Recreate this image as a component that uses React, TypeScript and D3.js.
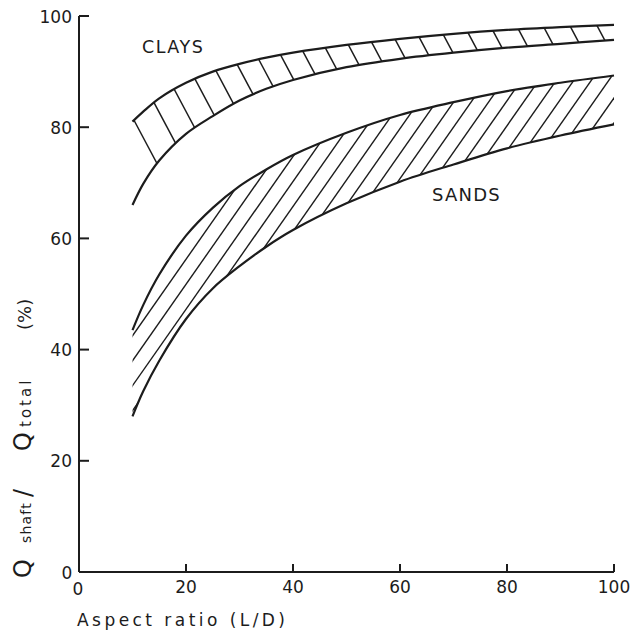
import React from 'react';
import * as d3 from 'd3';

const aspectRatio = [10, 12, 15, 20, 25, 30, 35, 40, 50, 60, 70, 80, 90, 100];
const clayUpper = [81, 82.8, 85.2, 88, 90, 91.4, 92.5, 93.4, 94.8, 95.9, 96.8, 97.5, 98, 98.4];
const clayLower = [66, 69.8, 74, 78.8, 82, 84.8, 86.9, 88.5, 90.8, 92.3, 93.4, 94.3, 95, 95.7];
const sandUpper = [43.5, 48, 53.5, 60.5, 65.5, 69.4, 72.4, 75, 79, 82.2, 84.5, 86.5, 88, 89.3];
const sandLower = [28, 32.5, 38, 45.5, 51, 55, 58.5, 61.5, 66.3, 70.2, 73.3, 76.2, 78.5, 80.5];
const xTicks = [20, 40, 60, 80, 100];
const yTicks = [20, 40, 60, 80, 100];

const W = 631;
const H = 632;
const INK = '#1c1c1c';
const FONT = 'DejaVu Sans, sans-serif';

type Row = { a: number; up: number; lo: number };

export default function App() {
  const x = d3.scaleLinear().domain([0, 100]).range([79, 614]);
  const y = d3.scaleLinear().domain([0, 100]).range([572, 16]);

  const rows = (up: number[], lo: number[]): Row[] =>
    aspectRatio.map((a, i) => ({ a, up: up[i], lo: lo[i] }));
  const clay = rows(clayUpper, clayLower);
  const sand = rows(sandUpper, sandLower);

  const curve = d3.curveCatmullRom.alpha(0.5);
  const area = d3
    .area<Row>()
    .x((d) => x(d.a))
    .y0((d) => y(d.lo))
    .y1((d) => y(d.up))
    .curve(curve);
  const lineUp = d3.line<Row>().x((d) => x(d.a)).y((d) => y(d.up)).curve(curve);
  const lineLo = d3.line<Row>().x((d) => x(d.a)).y((d) => y(d.lo)).curve(curve);

  // clay hatch: "\" lines, spacing growing slowly along the band
  const clayUpPx = d3
    .scaleLinear()
    .domain(aspectRatio.map((a) => x(a)))
    .range(clayUpper.map((v) => y(v)))
    .clamp(true);
  const ca = (62 * Math.PI) / 180;
  const cdx = Math.cos(ca);
  const cdy = Math.sin(ca);
  const clayHatch: { x1: number; y1: number; x2: number; y2: number }[] = [];
  for (let px = x(10) + 1.5; px < x(100) + 4; px += 20 + (px - x(10)) * 0.015) {
    const py = clayUpPx(px);
    clayHatch.push({ x1: px - 30 * cdx, y1: py - 30 * cdy, x2: px + 140 * cdx, y2: py + 140 * cdy });
  }

  // sand hatch: "/" lines
  const sa = (55 * Math.PI) / 180;
  const sdx = Math.cos(sa);
  const sdy = Math.sin(sa);
  const sandHatch: { x1: number; y1: number; x2: number; y2: number }[] = [];
  for (let px = 0; px < 900; px += 17.5) {
    const py = 300;
    sandHatch.push({ x1: px - 500 * sdx, y1: py + 500 * sdy, x2: px + 500 * sdx, y2: py - 500 * sdy });
  }

  return (
    <svg
      width={W}
      height={H}
      viewBox={`0 0 ${W} ${H}`}
      style={{ position: 'absolute', left: 0, top: 0, display: 'block', background: '#fff' }}
    >
      <defs>
        <clipPath id="clayClip">
          <path d={area(clay) || ''} />
        </clipPath>
        <clipPath id="sandClip">
          <path d={area(sand) || ''} />
        </clipPath>
      </defs>
      <rect x={0} y={0} width={W} height={H} fill="#fff" />

      {/* axes */}
      <line x1={x(0)} y1={y(100)} x2={x(0)} y2={y(0)} stroke={INK} strokeWidth={2} />
      <line x1={x(0)} y1={y(0)} x2={x(100)} y2={y(0)} stroke={INK} strokeWidth={2} />
      {yTicks.map((t) => (
        <g key={'yt' + t}>
          <line x1={x(0)} x2={x(0) + 10} y1={y(t)} y2={y(t)} stroke={INK} strokeWidth={2} />
          <text x={72} y={y(t) + 6.5} textAnchor="end" fontFamily={FONT} fontSize={17} fill={INK}>
            {t}
          </text>
        </g>
      ))}
      {xTicks.map((t) => (
        <g key={'xt' + t}>
          <line x1={x(t)} x2={x(t)} y1={y(0)} y2={y(0) - 8} stroke={INK} strokeWidth={2} />
          <text x={x(t)} y={593} textAnchor="middle" fontFamily={FONT} fontSize={17} fill={INK}>
            {t}
          </text>
        </g>
      ))}
      <text x={67} y={579} textAnchor="middle" fontFamily={FONT} fontSize={17} fill={INK}>0</text>
      <text x={78} y={595} textAnchor="middle" fontFamily={FONT} fontSize={17} fill={INK}>0</text>

      {/* axis titles */}
      <text
        x={77}
        y={626}
        fontFamily={FONT}
        fontSize={17}
        fill={INK}
        textLength={208}
        lengthAdjust="spacing"
      >
        Aspect ratio (L/D)
      </text>
      <text transform="rotate(-90)" y={31} fontFamily={FONT} fill={INK}>
        <tspan x={-578} fontSize={24}>Q</tspan>
        <tspan x={-543} fontSize={14} letterSpacing={1.2}>shaft</tspan>
        <tspan x={-497} fontSize={24}>/</tspan>
        <tspan x={-451} fontSize={24}>Q</tspan>
        <tspan x={-427} fontSize={15} letterSpacing={3}>total</tspan>
        <tspan x={-330} fontSize={18}>(%)</tspan>
      </text>

      {/* hatching */}
      <g clipPath="url(#clayClip)">
        {clayHatch.map((l, i) => (
          <line key={'ch' + i} {...l} stroke={INK} strokeWidth={1.5} />
        ))}
      </g>
      <g clipPath="url(#sandClip)">
        {sandHatch.map((l, i) => (
          <line key={'sh' + i} {...l} stroke={INK} strokeWidth={1.4} />
        ))}
      </g>

      {/* boundary curves */}
      <path d={lineUp(clay) || ''} fill="none" stroke={INK} strokeWidth={2.2} />
      <path d={lineLo(clay) || ''} fill="none" stroke={INK} strokeWidth={2.2} />
      <path d={lineUp(sand) || ''} fill="none" stroke={INK} strokeWidth={2.2} />
      <path d={lineLo(sand) || ''} fill="none" stroke={INK} strokeWidth={2.2} />

      {/* labels */}
      <text x={142} y={53} fontFamily={FONT} fontSize={17.5} letterSpacing={1.5} fill={INK}>
        CLAYS
      </text>
      <text x={432} y={201} fontFamily={FONT} fontSize={18} letterSpacing={1.2} fill={INK}>
        SANDS
      </text>
    </svg>
  );
}
